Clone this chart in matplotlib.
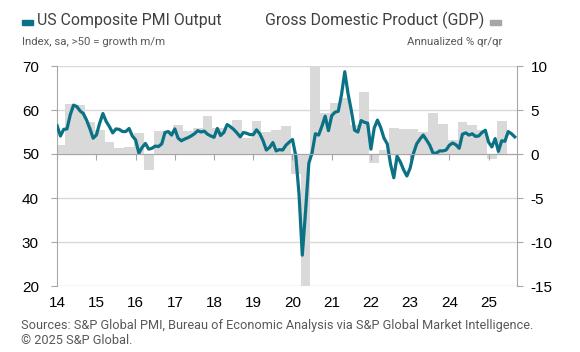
import matplotlib
matplotlib.use("Agg")
import matplotlib.pyplot as plt
import numpy as np

# ---- data ----
years = list(range(2014, 2026))
year_labels = [str(y)[2:] for y in years]

pmi_2014 = [56.4, 54.1, 55.6, 55.7, 58.9, 61.1, 60.8, 59.8, 59.2, 57.7, 55.8, 53.6]
pmi_2015 = [54.3, 57.0, 59.2, 57.4, 56.2, 54.8, 55.7, 55.6, 55.1, 55.1, 55.8, 54.1]
pmi_2016 = [53.2, 50.2, 51.5, 52.4, 51.1, 51.3, 51.8, 51.7, 52.3, 54.9, 55.1, 54.3]
pmi_2017 = [55.7, 53.6, 53.0, 53.4, 53.7, 54.1, 54.6, 55.3, 55.0, 55.2, 54.5, 54.1]
pmi_2018 = [53.8, 55.8, 54.2, 54.9, 56.7, 56.2, 55.6, 54.8, 53.9, 54.9, 54.7, 54.4]
pmi_2019 = [54.4, 55.5, 54.6, 53.0, 50.9, 51.5, 52.6, 50.7, 51.0, 50.9, 52.0, 52.7]
pmi_2020 = [53.3, 49.6, 40.9, 27.0, 37.0, 47.9, 50.3, 54.6, 54.3, 56.3, 58.6, 55.3]
pmi_2021 = [58.7, 59.5, 59.7, 63.5, 68.7, 63.7, 59.9, 55.4, 55.0, 57.6, 57.2, 57.0]
pmi_2022 = [51.1, 55.9, 57.7, 56.0, 53.6, 52.3, 47.7, 44.6, 49.5, 48.2, 46.4, 45.0]
pmi_2023 = [46.8, 50.1, 52.3, 53.4, 54.3, 53.2, 52.0, 50.2, 50.2, 50.7, 50.7, 50.9]
pmi_2024 = [52.0, 52.5, 52.1, 51.3, 54.5, 54.8, 54.3, 54.6, 54.0, 54.1, 54.9, 55.4]
pmi_2025 = [52.7, 51.6, 53.5, 50.6, 53.0, 52.9, 55.1, 54.6, 53.9]

# quarterly GDP, annualized % q/q (Q1 2014 .. Q2 2025)
gdp_2014 = [1.0, 5.7, 5.6, 3.6]
gdp_2015 = [2.7, 1.4, 0.7, 0.8]
gdp_2016 = [2.4, -1.8, 2.6, 2.6]
gdp_2017 = [3.3, 2.6, 3.0, 4.3]
gdp_2018 = [2.9, 2.9, 3.9, 1.8]
gdp_2019 = [3.7, 2.5, 2.7, 3.2]
gdp_2020 = [-2.3, -28.0, 35.2, 4.7]
gdp_2021 = [5.8, 6.4, 3.3, 7.0]
gdp_2022 = [-1.0, 0.5, 2.9, 2.8]
gdp_2023 = [2.8, 2.5, 4.7, 3.4]
gdp_2024 = [1.6, 3.6, 3.3, 2.7]
gdp_2025 = [-0.6, 3.8]

pmi = (pmi_2014 + pmi_2015 + pmi_2016 + pmi_2017 + pmi_2018 + pmi_2019 +
       pmi_2020 + pmi_2021 + pmi_2022 + pmi_2023 + pmi_2024 + pmi_2025)
gdp = (gdp_2014 + gdp_2015 + gdp_2016 + gdp_2017 + gdp_2018 + gdp_2019 +
       gdp_2020 + gdp_2021 + gdp_2022 + gdp_2023 + gdp_2024 + gdp_2025)

months = np.arange(len(pmi))               # 0 = Jan 2014
quarter_mid = np.arange(len(gdp)) * 3 + 1  # middle month of each quarter
year_pos = [(y - 2014) * 12 for y in years]

TEAL = "#0B7285"
BAR = "#D9D9D9"
AXC = "#A6A6A6"
TXT = "#404040"
SUB = "#595959"

fig = plt.figure(figsize=(5.8, 3.52), dpi=100)
L, R, T, B = 57 / 580, 516.7 / 580, 66 / 352, 286 / 352
ax = fig.add_axes([L, 1 - B, R - L, B - T])
ax2 = ax.twinx()
ax.set_zorder(ax2.get_zorder() + 1)
ax.patch.set_visible(False)

# GDP bars (right axis)
ax2.bar(quarter_mid, gdp, width=3.0, color=BAR, linewidth=0, zorder=2)
ax2.set_ylim(-15, 10)
ax2.set_yticks([-15, -10, -5, 0, 5, 10])
ax2.set_yticklabels(["-15", "-10", "-5", "0", "5", "10"])
ax2.grid(axis="y", color="#D9D9D9", linewidth=1.0, zorder=0)
ax2.set_axisbelow(True)

# PMI line (left axis)
ax.plot(months, pmi, color=TEAL, linewidth=2.3, solid_joinstyle="round", zorder=5)
ax.set_ylim(20, 70)
ax.set_yticks([20, 30, 40, 50, 60, 70])
ax.set_xlim(-0.05, 140.6)

for a in (ax, ax2):
    a.spines["top"].set_visible(False)
ax2.spines["bottom"].set_visible(False)
ax2.spines["left"].set_visible(False)
ax2.spines["right"].set_color(AXC)
ax.spines["right"].set_visible(False)
ax.spines["left"].set_color(AXC)
ax.spines["bottom"].set_position(("data", 50))
ax.spines["bottom"].set_color(AXC)
ax.spines["bottom"].set_zorder(6)

ax.set_xticks(year_pos)
ax.tick_params(axis="x", direction="out", length=4, color=AXC, labelbottom=False)
ax.tick_params(axis="y", direction="out", length=4, color=AXC, pad=9,
               labelsize=11, labelcolor="black")
ax2.tick_params(axis="y", direction="out", length=4, color=AXC, pad=6,
                labelsize=11, labelcolor="black")
for lab in ax.get_yticklabels() + ax2.get_yticklabels():
    lab.set_fontfamily("Liberation Sans")

# year labels at the bottom
sec = ax.secondary_xaxis("bottom")
sec.set_xticks(year_pos, year_labels)
sec.spines["bottom"].set_visible(False)
sec.tick_params(axis="x", length=0, pad=7, labelsize=11, labelcolor="black")
for lab in sec.get_xticklabels():
    lab.set_fontfamily("Liberation Sans")

# legend / titles
fig.patches.append(plt.Rectangle((22 / 580, 1 - 25 / 352), 11 / 580, 5 / 352,
                                 transform=fig.transFigure, color=TEAL))
fig.text(37 / 580, 1 - 20 / 352, "US Composite PMI Output", fontsize=11.4,
         color=TXT, va="center", ha="left", family="Roboto")
fig.text(22 / 580, 1 - 42 / 352, "Index, sa, >50 = growth m/m", fontsize=8.2,
         color=SUB, va="center", ha="left", family="Roboto")
fig.patches.append(plt.Rectangle((490 / 580, 1 - 25 / 352), 11 / 580, 5 / 352,
                                 transform=fig.transFigure, color="#A6A6A6"))
fig.text(484 / 580, 1 - 20 / 352, "Gross Domestic Product (GDP)", fontsize=11.4,
         color=TXT, va="center", ha="right", family="Roboto")
fig.text(502 / 580, 1 - 42 / 352, "Annualized % qr/qr", fontsize=8.2,
         color=SUB, va="center", ha="right", family="Roboto")

fig.text(21 / 580, 1 - 326 / 352,
         "Sources: S&P Global PMI, Bureau of Economic Analysis via S&P Global Market Intelligence.",
         fontsize=9.2, color=SUB, va="center", ha="left", family="Roboto")
fig.text(21 / 580, 1 - 341 / 352, "\u00a9 2025 S&P Global.",
         fontsize=9.2, color=SUB, va="center", ha="left", family="Roboto")

fig.savefig("out.png", dpi=100)
